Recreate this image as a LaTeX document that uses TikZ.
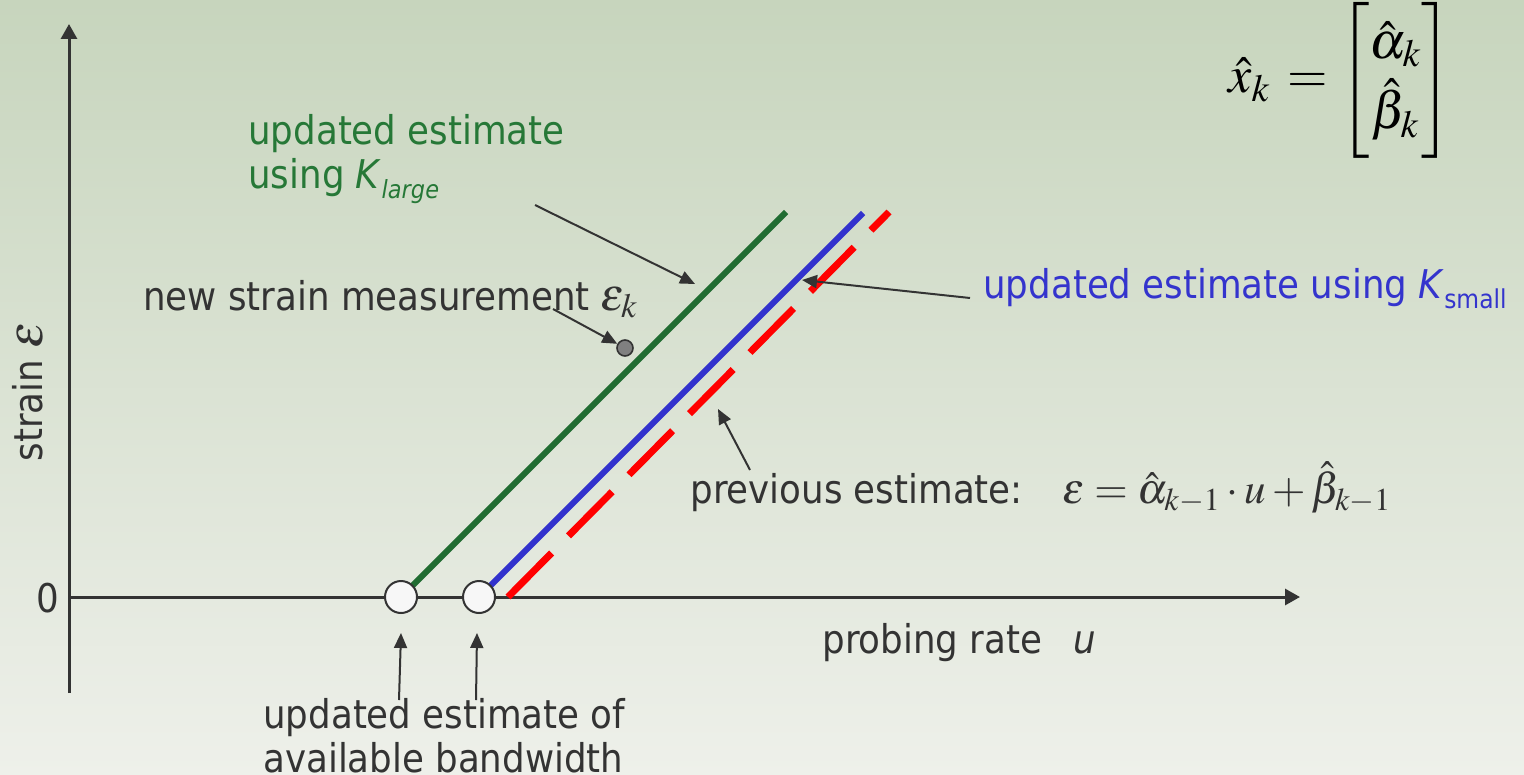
\documentclass[tikz,border=0pt]{standalone}
\usepackage{amsmath}
\usepackage{mathptmx}
\usepackage{fontspec}
\setmainfont{DejaVu Sans Condensed}
\usetikzlibrary{arrows.meta}
\definecolor{bgtop}{RGB}{199,213,189}
\definecolor{bgbot}{RGB}{238,240,234}
\definecolor{ink}{RGB}{51,51,51}
\definecolor{lgreen}{RGB}{33,108,50}
\definecolor{tgreen}{RGB}{38,120,55}
\definecolor{lblue}{RGB}{50,50,205}
\definecolor{tblue}{RGB}{52,52,205}
\definecolor{lred}{RGB}{255,0,0}
\definecolor{dotgray}{RGB}{128,128,128}
\begin{document}
\begin{tikzpicture}[x=0.5pt,y=-0.5pt,
  axis/.style={ink,line width=1.5pt,-{Triangle[length=7.5pt,width=8pt]}},
  ptr/.style={ink,line width=1pt,-{Triangle[length=7.5pt,width=6.5pt]}},
  lbl/.style={inner sep=0pt,text=ink,font=\fontsize{19.8}{21}\selectfont},
  estline/.style={line width=3pt},
  ring/.style={circle,draw=ink,fill=white!97!black,line width=1pt,minimum size=16pt,inner sep=0pt},
  meas/.style={circle,draw=ink,fill=dotgray,line width=0.8pt,minimum size=8pt,inner sep=0pt}]
\fill[top color=bgtop,bottom color=bgbot] (0,0) rectangle (1524,775);
\useasboundingbox (0,0) rectangle (1524,775);
% axes
\coordinate (ybot) at (69,693);
\coordinate (ytop) at (69,24);
\coordinate (xleft) at (69,597);
\coordinate (xright) at (1300,597);
\draw[axis] (ybot) -- (ytop);
\draw[axis] (xleft) -- (xright);
% estimate lines
\coordinate (p1) at (401,597);
\coordinate (p2) at (479,597);
\coordinate (p3) at (508,597);
\coordinate (gend) at (786,212);
\coordinate (bend) at (863,213);
\coordinate (rend) at (889,212);
\draw[estline,lgreen] (p1) -- (gend);
\draw[estline,lblue] (p2) -- (bend);
\draw[line width=3.5pt,lred,dash pattern=on 31pt off 12pt] (p3) -- (rend);
\node[ring] (c1) at (p1) {};
\node[ring] (c2) at (p2) {};
\node[meas] (m) at (625,348) {};
% labels
\node[lbl,text=tgreen,anchor=north west,align=left] (glabel) at (248,114)
  {updated estimate\\[1pt]using \textit{K}\raisebox{-5pt}{\fontsize{12.5}{12.5}\selectfont\itshape large}};
\node[lbl,anchor=base west] (nlabel) at (143,310) {new strain measurement {\fontsize{23}{24}\selectfont$\varepsilon_k$}};
\node[lbl,text=tblue,anchor=base west] (bluelabel) at (983,298)
  {updated estimate using \textit{K}\raisebox{-5.5pt}{\fontsize{13}{13}\selectfont small}};
\node[lbl,anchor=base west] (plabel) at (690,503)
  {previous estimate:\quad {\fontsize{21.5}{24}\selectfont$\varepsilon = \hat{\alpha}_{k-1}\cdot u+\hat{\beta}_{k-1}$}};
\node[lbl,anchor=base west] (xlabel) at (822,653) {probing rate\hspace{16pt}\textit{u}};
\node[lbl,anchor=north west,align=left] (bwlabel) at (263,698) {updated estimate of\\[1pt]available bandwidth};
\node[lbl,anchor=base east] (zero) at (60,612) {0};
\node[lbl,rotate=90,anchor=base] (ylabel) at (42,392) {strain {\fontsize{25}{25}\selectfont$\varepsilon$}};
\node[inner sep=0pt,anchor=west,font=\fontsize{26}{30}\selectfont] (xhat) at (1228,80)
  {\renewcommand{\arraystretch}{1.12}$\hat{x}_k \,=\begin{bmatrix}\hat{\alpha}_k\\ \hat{\beta}_k\end{bmatrix}$};
% pointers
\coordinate (gtail) at (535,205);
\coordinate (gtip) at (695,284);
\coordinate (ntail) at (553,309);
\coordinate (btail) at (970,298);
\coordinate (btip) at (802,280);
\coordinate (ptail) at (750,470);
\coordinate (ptip) at (718,409);
\coordinate (a1tail) at (399,700);
\coordinate (a1tip) at (401,633);
\coordinate (a2tail) at (476,700);
\coordinate (a2tip) at (477,633);
\draw[ptr] (gtail) -- (gtip);
\draw[ptr] (ntail) -- (m);
\draw[ptr] (btail) -- (btip);
\draw[ptr] (ptail) -- (ptip);
\draw[ptr] (a1tail) -- (a1tip);
\draw[ptr] (a2tail) -- (a2tip);
\end{tikzpicture}
\end{document}
